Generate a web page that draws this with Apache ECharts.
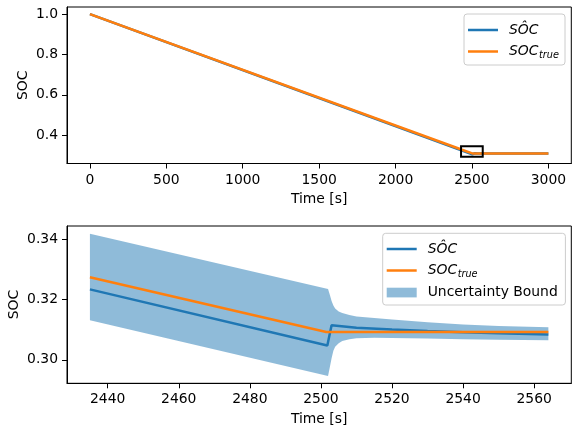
<!DOCTYPE html>
<html>
<head>
<meta charset="utf-8">
<script src="https://cdn.jsdelivr.net/npm/echarts@6/dist/echarts.min.js"></script>
<style>
html,body{margin:0;padding:0;background:#fff;}
#chart{width:573px;height:427px;}
</style>
</head>
<body>
<div id="chart"></div>
<script>
// ---- data ----
const hatT  = [0, 2435, 2501.8, 2503, 2510, 2520, 2530, 2540, 2550, 2564, 3000];
const hatV  = [1.0, 0.3233, 0.3047, 0.3114, 0.3106, 0.3100, 0.3095, 0.3091, 0.3088, 0.3084, 0.3080];
const trueT = [0, 2435, 2501.5, 2564, 3000];
const trueV = [1.0, 0.3273, 0.3092, 0.3092, 0.3092];
const bandT  = [2435, 2502, 2502.5, 2503, 2503.5, 2504, 2505, 2506, 2508, 2510, 2515, 2520, 2530, 2540, 2550, 2564];
const bandLo = [0.3131, 0.2946, 0.2975, 0.3005, 0.3030, 0.3043, 0.3055, 0.3062, 0.3068, 0.3071, 0.3073, 0.3072, 0.3070, 0.3068, 0.3066, 0.3065];
const bandHi = [0.3417, 0.3234, 0.3215, 0.3195, 0.3180, 0.3170, 0.3160, 0.3155, 0.3148, 0.3143, 0.3138, 0.3133, 0.3124, 0.3117, 0.3112, 0.3108];
const zoomWindow = [2435, 2564];
const zoomBoxX = [2428.55, 2570.45];
const zoomBoxY = [0.2922, 0.3443];
const topXTicks = [0, 500, 1000, 1500, 2000, 2500, 3000];
const topYTicks = [0.4, 0.6, 0.8, 1.0];
const botXTicks = [2440, 2460, 2480, 2500, 2520, 2540, 2560];
const botYTicks = [0.30, 0.32, 0.34];

// ---- build ----
const BLUE = '#1f77b4', ORANGE = '#ff7f0e';
const FONT = 'DejaVu Sans';
const FS = 13.9;
const LW = 2.5;
const pairs = (t, v) => t.map((x, i) => [x, v[i]]);
const inWin = p => p[0] >= zoomWindow[0] && p[0] <= zoomWindow[1];

const hatAll = pairs(hatT, hatV);
const trueAll = pairs(trueT, trueV);

function xAxisCfg(grid, min, max, ticks) {
  return {
    type: 'value', gridIndex: grid, min: min, max: max,
    name: 'Time [s]', nameLocation: 'middle', nameGap: 29,
    nameTextStyle: {fontFamily: FONT, fontSize: FS, color: '#000'},
    axisLine: {show: true, onZero: false, lineStyle: {color: '#000', width: 1}},
    axisTick: {show: true, length: 5, lineStyle: {color: '#000', width: 1}, customValues: ticks},
    axisLabel: {fontFamily: FONT, fontSize: FS, color: '#000', margin: 9.5, customValues: ticks,
      formatter: v => String(Math.round(v))},
    splitLine: {show: false}
  };
}
function yAxisCfg(grid, min, max, ticks, dec, gap) {
  return {
    type: 'value', gridIndex: grid, min: min, max: max,
    name: 'SOC', nameLocation: 'middle', nameGap: gap, nameRotate: 90, nameMoveOverlap: false,
    nameTextStyle: {fontFamily: FONT, fontSize: FS, color: '#000'},
    axisLine: {show: true, onZero: false, lineStyle: {color: '#000', width: 1}},
    axisTick: {show: true, length: 5, lineStyle: {color: '#000', width: 1}, customValues: ticks},
    axisLabel: {fontFamily: FONT, fontSize: FS, color: '#000', margin: 9, customValues: ticks,
      formatter: v => v.toFixed(dec)},
    splitLine: {show: false}
  };
}

function legendGraphics(x, y, w, h, rows) {
  const els = [{
    type: 'rect', shape: {x: x, y: y, width: w, height: h, r: 3},
    style: {fill: 'rgba(255,255,255,0.8)', stroke: '#cccccc', lineWidth: 1}, z: 100
  }];
  rows.forEach(r => {
    if (r.kind === 'line') {
      els.push({type: 'line', shape: {x1: x + 4, y1: r.y, x2: x + 34, y2: r.y},
        style: {stroke: r.color, lineWidth: LW}, z: 101});
    } else {
      els.push({type: 'rect', shape: {x: x + 4, y: r.y - 4.8, width: 30, height: 9.7},
        style: {fill: 'rgba(31,119,180,0.5)'}, z: 101});
    }
    els.push({type: 'text', x: x + 45, y: r.y,
      style: {text: r.text, fontFamily: FONT, fontSize: FS, fontStyle: r.italic ? 'italic' : 'normal',
        fill: '#000', verticalAlign: 'middle', align: 'left'}, z: 102});
    if (r.sub) {
      els.push({type: 'text', x: x + 45 + 30, y: r.y + 3.5,
        style: {text: r.sub, fontFamily: FONT, fontSize: 9.7, fontStyle: 'italic',
          fill: '#000', verticalAlign: 'middle', align: 'left'}, z: 102});
    }
  });
  return els;
}

const gridBase = {left: 67, width: 504.3, show: true, borderColor: '#000', borderWidth: 1,
  backgroundColor: 'transparent', containLabel: false, outerBoundsMode: 'none'};

const option = {
  animation: false,
  backgroundColor: '#fff',
  grid: [
    Object.assign({}, gridBase, {top: 7, height: 156.5}),
    Object.assign({}, gridBase, {top: 226, height: 157.3})
  ],
  xAxis: [
    xAxisCfg(0, -150, 3150, topXTicks),
    xAxisCfg(1, zoomBoxX[0], zoomBoxX[1], botXTicks)
  ],
  yAxis: [
    yAxisCfg(0, 0.259, 1.0353, topYTicks, 1, 37),
    yAxisCfg(1, zoomBoxY[0], zoomBoxY[1], botYTicks, 2, 46)
  ],
  series: [
    {name: 'SÔC', type: 'line', xAxisIndex: 0, yAxisIndex: 0, data: hatAll, showSymbol: false, symbol: 'none',
      lineStyle: {color: BLUE, width: LW}, itemStyle: {color: BLUE}, z: 2},
    {name: 'SOC_true', type: 'line', xAxisIndex: 0, yAxisIndex: 0, data: trueAll, showSymbol: false, symbol: 'none',
      lineStyle: {color: ORANGE, width: LW}, itemStyle: {color: ORANGE}, z: 3},
    {name: 'zoom box', type: 'custom', xAxisIndex: 0, yAxisIndex: 0, z: 10,
      data: [[zoomBoxX[0], zoomBoxY[0], zoomBoxX[1], zoomBoxY[1]]],
      renderItem: function (params, api) {
        const p0 = api.coord([api.value(0), api.value(3)]);
        const p1 = api.coord([api.value(2), api.value(1)]);
        return {type: 'rect', shape: {x: p0[0], y: p0[1], width: p1[0] - p0[0], height: p1[1] - p0[1]},
          style: {fill: 'none', stroke: '#000', lineWidth: 2}};
      }},
    {name: 'Uncertainty Bound', type: 'custom', xAxisIndex: 1, yAxisIndex: 1, z: 1,
      data: bandT.map((t, i) => [t, bandLo[i], bandHi[i]]),
      encode: {x: 0, y: [1, 2]},
      renderItem: function (params, api) {
        if (params.dataIndex !== 0) return null;
        const pts = [];
        for (let i = 0; i < bandT.length; i++) pts.push(api.coord([bandT[i], bandHi[i]]));
        for (let i = bandT.length - 1; i >= 0; i--) pts.push(api.coord([bandT[i], bandLo[i]]));
        return {type: 'polygon', shape: {points: pts}, style: {fill: 'rgba(31,119,180,0.5)'}};
      }},
    {name: 'SÔC', type: 'line', xAxisIndex: 1, yAxisIndex: 1, data: hatAll.filter(inWin), showSymbol: false, symbol: 'none',
      lineStyle: {color: BLUE, width: LW}, itemStyle: {color: BLUE}, z: 2},
    {name: 'SOC_true', type: 'line', xAxisIndex: 1, yAxisIndex: 1, data: trueAll.filter(inWin), showSymbol: false, symbol: 'none',
      lineStyle: {color: ORANGE, width: LW}, itemStyle: {color: ORANGE}, z: 3}
  ],
  graphic: [].concat(
    legendGraphics(464, 14, 101, 51, [
      {kind: 'line', color: BLUE, y: 30, text: 'SÔC', italic: true},
      {kind: 'line', color: ORANGE, y: 51.5, text: 'SOC', sub: 'true', italic: true}
    ]),
    legendGraphics(382.7, 233.3, 182.7, 71.7, [
      {kind: 'line', color: BLUE, y: 249, text: 'SÔC', italic: true},
      {kind: 'line', color: ORANGE, y: 270.5, text: 'SOC', sub: 'true', italic: true},
      {kind: 'patch', y: 292.5, text: 'Uncertainty Bound', italic: false}
    ])
  )
};

const chart = echarts.init(document.getElementById('chart'), null, {renderer: 'canvas'});
chart.setOption(option);
</script>
</body>
</html>
